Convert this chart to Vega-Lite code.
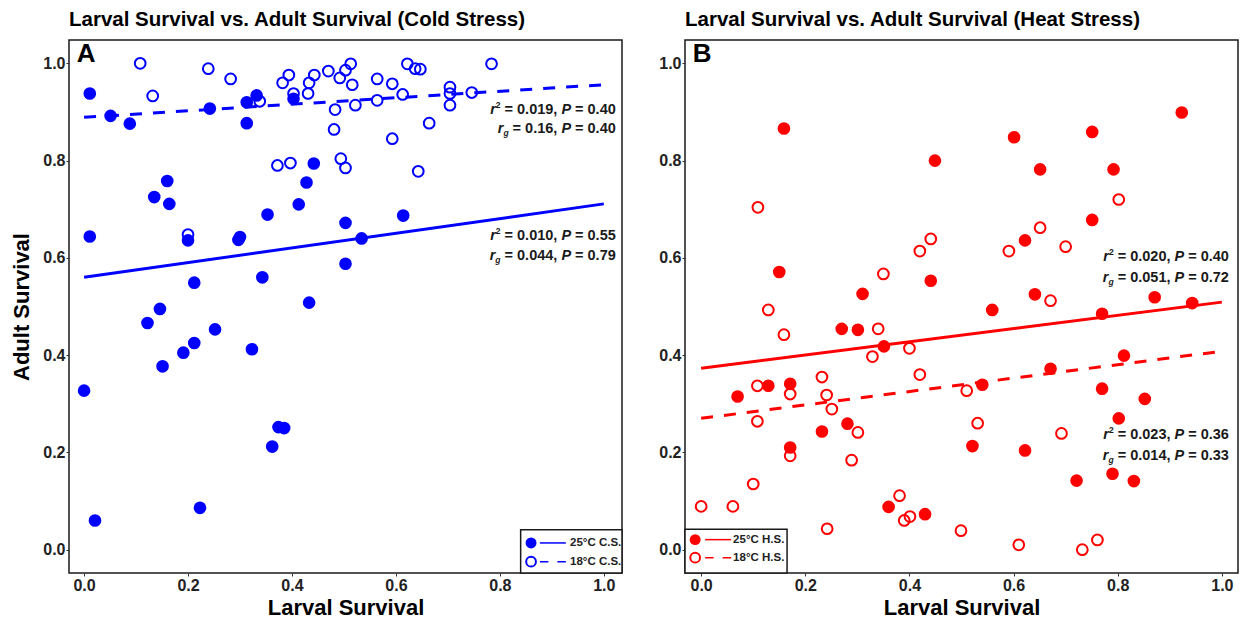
{
  "$schema": "https://vega.github.io/schema/vega-lite/v6.json",
  "background": "white",
  "padding": {"left": 10, "right": 5, "top": 8, "bottom": 5},
  "config": {
    "font": "Liberation Sans",
    "view": {"stroke": "#1a1a1a", "strokeWidth": 1.5},
    "axis": {
      "grid": false, "domain": false, "ticks": true, "tickSize": 3, "tickColor": "#333333", "tickWidth": 1,
      "labelFont": "Liberation Sans", "labelFontSize": 16, "labelFontWeight": "bold", "labelColor": "#222222", "labelPadding": 1,
      "titleFont": "Liberation Sans", "titleFontSize": 22, "titleFontWeight": "bold", "titleColor": "#000000"
    },
    "title": {"font": "Liberation Sans", "fontSize": 20.5, "fontWeight": "bold", "anchor": "start", "frame": "group", "offset": 10, "color": "#000000"},
    "concat": {"spacing": 34}
  },
  "datasets": {
    "cold25": [
      {"larval": 0.011, "adult": 0.938}, {"larval": 0.051, "adult": 0.892}, {"larval": 0.088, "adult": 0.876},
      {"larval": 0.242, "adult": 0.907}, {"larval": 0.313, "adult": 0.920}, {"larval": 0.332, "adult": 0.934},
      {"larval": 0.313, "adult": 0.877}, {"larval": 0.403, "adult": 0.927}, {"larval": 0.442, "adult": 0.794},
      {"larval": 0.428, "adult": 0.755}, {"larval": 0.160, "adult": 0.758}, {"larval": 0.135, "adult": 0.725},
      {"larval": 0.164, "adult": 0.711}, {"larval": 0.353, "adult": 0.689}, {"larval": 0.413, "adult": 0.710},
      {"larval": 0.503, "adult": 0.672}, {"larval": 0.011, "adult": 0.644}, {"larval": 0.200, "adult": 0.636},
      {"larval": 0.300, "adult": 0.643}, {"larval": 0.297, "adult": 0.637}, {"larval": 0.534, "adult": 0.640},
      {"larval": 0.503, "adult": 0.588}, {"larval": 0.212, "adult": 0.549}, {"larval": 0.343, "adult": 0.560},
      {"larval": 0.146, "adult": 0.495}, {"larval": 0.122, "adult": 0.466}, {"larval": 0.433, "adult": 0.508},
      {"larval": 0.252, "adult": 0.453}, {"larval": 0.212, "adult": 0.425}, {"larval": 0.191, "adult": 0.405},
      {"larval": 0.323, "adult": 0.412}, {"larval": 0.151, "adult": 0.377}, {"larval": 0.000, "adult": 0.327},
      {"larval": 0.374, "adult": 0.252}, {"larval": 0.385, "adult": 0.250}, {"larval": 0.362, "adult": 0.212},
      {"larval": 0.223, "adult": 0.086}, {"larval": 0.021, "adult": 0.060}, {"larval": 0.614, "adult": 0.687}
    ],
    "cold18": [
      {"larval": 0.108, "adult": 1.000}, {"larval": 0.132, "adult": 0.933}, {"larval": 0.239, "adult": 0.989},
      {"larval": 0.282, "adult": 0.968}, {"larval": 0.338, "adult": 0.922}, {"larval": 0.382, "adult": 0.960},
      {"larval": 0.394, "adult": 0.976}, {"larval": 0.403, "adult": 0.938}, {"larval": 0.431, "adult": 0.938},
      {"larval": 0.433, "adult": 0.960}, {"larval": 0.443, "adult": 0.976}, {"larval": 0.470, "adult": 0.984},
      {"larval": 0.492, "adult": 0.970}, {"larval": 0.503, "adult": 0.986}, {"larval": 0.513, "adult": 0.999},
      {"larval": 0.516, "adult": 0.956}, {"larval": 0.483, "adult": 0.905}, {"larval": 0.481, "adult": 0.864},
      {"larval": 0.522, "adult": 0.914}, {"larval": 0.372, "adult": 0.790}, {"larval": 0.397, "adult": 0.795},
      {"larval": 0.494, "adult": 0.804}, {"larval": 0.503, "adult": 0.785}, {"larval": 0.564, "adult": 0.968},
      {"larval": 0.593, "adult": 0.958}, {"larval": 0.564, "adult": 0.924}, {"larval": 0.613, "adult": 0.936},
      {"larval": 0.622, "adult": 0.999}, {"larval": 0.637, "adult": 0.989}, {"larval": 0.647, "adult": 0.988},
      {"larval": 0.593, "adult": 0.845}, {"larval": 0.664, "adult": 0.877}, {"larval": 0.643, "adult": 0.778},
      {"larval": 0.704, "adult": 0.951}, {"larval": 0.704, "adult": 0.938}, {"larval": 0.704, "adult": 0.914},
      {"larval": 0.746, "adult": 0.940}, {"larval": 0.784, "adult": 0.999}, {"larval": 0.200, "adult": 0.648}
    ],
    "heat25": [
      {"larval": 0.159, "adult": 0.866}, {"larval": 0.449, "adult": 0.800}, {"larval": 0.150, "adult": 0.571},
      {"larval": 0.310, "adult": 0.526}, {"larval": 0.441, "adult": 0.553}, {"larval": 0.923, "adult": 0.899},
      {"larval": 0.601, "adult": 0.848}, {"larval": 0.751, "adult": 0.859}, {"larval": 0.651, "adult": 0.782},
      {"larval": 0.792, "adult": 0.782}, {"larval": 0.751, "adult": 0.678}, {"larval": 0.622, "adult": 0.636},
      {"larval": 0.641, "adult": 0.525}, {"larval": 0.871, "adult": 0.519}, {"larval": 0.943, "adult": 0.507},
      {"larval": 0.559, "adult": 0.493}, {"larval": 0.770, "adult": 0.485}, {"larval": 0.270, "adult": 0.454},
      {"larval": 0.301, "adult": 0.452}, {"larval": 0.351, "adult": 0.418}, {"larval": 0.070, "adult": 0.315},
      {"larval": 0.129, "adult": 0.337}, {"larval": 0.171, "adult": 0.341}, {"larval": 0.232, "adult": 0.243},
      {"larval": 0.281, "adult": 0.259}, {"larval": 0.171, "adult": 0.210}, {"larval": 0.360, "adult": 0.088},
      {"larval": 0.430, "adult": 0.073}, {"larval": 0.812, "adult": 0.399}, {"larval": 0.671, "adult": 0.372},
      {"larval": 0.540, "adult": 0.339}, {"larval": 0.770, "adult": 0.331}, {"larval": 0.852, "adult": 0.310},
      {"larval": 0.802, "adult": 0.270}, {"larval": 0.521, "adult": 0.213}, {"larval": 0.622, "adult": 0.204},
      {"larval": 0.790, "adult": 0.156}, {"larval": 0.721, "adult": 0.142}, {"larval": 0.831, "adult": 0.141}
    ],
    "heat18": [
      {"larval": 0.109, "adult": 0.704}, {"larval": 0.441, "adult": 0.639}, {"larval": 0.420, "adult": 0.614},
      {"larval": 0.350, "adult": 0.567}, {"larval": 0.129, "adult": 0.493}, {"larval": 0.802, "adult": 0.720},
      {"larval": 0.651, "adult": 0.662}, {"larval": 0.591, "adult": 0.614}, {"larval": 0.700, "adult": 0.623},
      {"larval": 0.671, "adult": 0.512}, {"larval": 0.159, "adult": 0.442}, {"larval": 0.340, "adult": 0.454},
      {"larval": 0.329, "adult": 0.397}, {"larval": 0.400, "adult": 0.414}, {"larval": 0.420, "adult": 0.360},
      {"larval": 0.108, "adult": 0.337}, {"larval": 0.171, "adult": 0.320}, {"larval": 0.232, "adult": 0.355},
      {"larval": 0.241, "adult": 0.318}, {"larval": 0.251, "adult": 0.289}, {"larval": 0.108, "adult": 0.264},
      {"larval": 0.301, "adult": 0.241}, {"larval": 0.171, "adult": 0.193}, {"larval": 0.289, "adult": 0.184},
      {"larval": 0.100, "adult": 0.135}, {"larval": 0.000, "adult": 0.089}, {"larval": 0.061, "adult": 0.089},
      {"larval": 0.381, "adult": 0.111}, {"larval": 0.390, "adult": 0.060}, {"larval": 0.401, "adult": 0.068},
      {"larval": 0.242, "adult": 0.043}, {"larval": 0.510, "adult": 0.327}, {"larval": 0.531, "adult": 0.260},
      {"larval": 0.692, "adult": 0.239}, {"larval": 0.499, "adult": 0.039}, {"larval": 0.610, "adult": 0.010},
      {"larval": 0.732, "adult": 0.000}, {"larval": 0.761, "adult": 0.020}
    ],
    "coldFit25": [{"larval": 0, "adult": 0.560}, {"larval": 1, "adult": 0.711}],
    "coldFit18": [{"larval": 0, "adult": 0.889}, {"larval": 1, "adult": 0.956}],
    "heatFit25": [{"larval": 0, "adult": 0.373}, {"larval": 1, "adult": 0.509}],
    "heatFit18": [{"larval": 0, "adult": 0.270}, {"larval": 1, "adult": 0.408}],
    "coldNotes": [
      {"kind": "r2", "larval": 1.023, "adult": 0.905, "stat": "= 0.019,", "p": "= 0.40"},
      {"kind": "rg", "larval": 1.023, "adult": 0.864, "stat": "= 0.16,", "p": "= 0.40"},
      {"kind": "r2", "larval": 1.023, "adult": 0.644, "stat": "= 0.010,", "p": "= 0.55"},
      {"kind": "rg", "larval": 1.023, "adult": 0.603, "stat": "= 0.044,", "p": "= 0.79"}
    ],
    "heatNotes": [
      {"kind": "r2", "larval": 1.0135, "adult": 0.601, "stat": "= 0.020,", "p": "= 0.40"},
      {"kind": "rg", "larval": 1.0135, "adult": 0.559, "stat": "= 0.051,", "p": "= 0.72"},
      {"kind": "r2", "larval": 1.0135, "adult": 0.2366, "stat": "= 0.023,", "p": "= 0.36"},
      {"kind": "rg", "larval": 1.0135, "adult": 0.193, "stat": "= 0.014,", "p": "= 0.33"}
    ]
  },
  "hconcat": [
    {
      "width": 553,
      "height": 533,
      "title": {"text": "Larval Survival vs. Adult Survival (Cold Stress)"},
      "layer": [
        {
          "encoding": {
            "x": {"field": "larval", "type": "quantitative", "title": "Larval Survival",
                  "scale": {"domain": [-0.029, 1.035], "nice": false, "zero": false},
                  "axis": {"values": [0, 0.2, 0.4, 0.6, 0.8, 1], "format": ".1f", "titlePadding": 4}},
            "y": {"field": "adult", "type": "quantitative", "title": "Adult Survival",
                  "scale": {"domain": [-0.048, 1.048], "nice": false, "zero": false},
                  "axis": {"values": [0, 0.2, 0.4, 0.6, 0.8, 1], "format": ".1f", "titlePadding": 9}}
          },
          "layer": [
            {"data": {"name": "coldFit25"}, "mark": {"type": "line", "color": "#0000FF", "strokeWidth": 3}, "encoding": {}},
            {"data": {"name": "coldFit18"}, "mark": {"type": "line", "color": "#0000FF", "strokeWidth": 3, "strokeDash": [12, 11]}, "encoding": {}},
            {"data": {"name": "cold25"}, "mark": {"type": "point", "shape": "circle", "filled": true, "size": 160, "color": "#0000FF", "opacity": 1}},
            {"data": {"name": "cold18"}, "mark": {"type": "point", "shape": "circle", "filled": false, "size": 115, "strokeWidth": 2, "color": "#0000FF", "opacity": 1}},
            {"data": {"name": "coldNotes"}, "mark": {"type": "text", "align": "right", "baseline": "middle", "fontSize": 14.5, "fontWeight": "bold", "color": "#1a1a1a"}, "encoding": {"text": {"field": "p"}}},
            {"data": {"name": "coldNotes"}, "mark": {"type": "text", "align": "right", "baseline": "middle", "fontSize": 14.5, "fontWeight": "bold", "fontStyle": "italic", "color": "#1a1a1a", "dx": -44.7}, "encoding": {"text": {"value": "P"}}},
            {"data": {"name": "coldNotes"}, "mark": {"type": "text", "align": "right", "baseline": "middle", "fontSize": 14.5, "fontWeight": "bold", "color": "#1a1a1a", "dx": -58.4}, "encoding": {"text": {"field": "stat"}}},
            {"data": {"name": "coldNotes"}, "transform": [{"filter": "datum.kind === 'r2'"}], "mark": {"type": "text", "align": "right", "baseline": "middle", "fontSize": 8.5, "fontWeight": "bold", "color": "#1a1a1a", "dx": -115.2, "dy": -5}, "encoding": {"text": {"value": "2"}}},
            {"data": {"name": "coldNotes"}, "transform": [{"filter": "datum.kind === 'r2'"}], "mark": {"type": "text", "align": "right", "baseline": "middle", "fontSize": 14.5, "fontWeight": "bold", "fontStyle": "italic", "color": "#1a1a1a", "dx": -119.9}, "encoding": {"text": {"value": "r"}}},
            {"data": {"name": "coldNotes"}, "transform": [{"filter": "datum.kind === 'rg' && length(datum.stat) === 8"}], "mark": {"type": "text", "align": "right", "baseline": "middle", "fontSize": 8.5, "fontWeight": "bold", "fontStyle": "italic", "color": "#1a1a1a", "dx": -115.2, "dy": 4}, "encoding": {"text": {"value": "g"}}},
            {"data": {"name": "coldNotes"}, "transform": [{"filter": "datum.kind === 'rg' && length(datum.stat) === 8"}], "mark": {"type": "text", "align": "right", "baseline": "middle", "fontSize": 14.5, "fontWeight": "bold", "fontStyle": "italic", "color": "#1a1a1a", "dx": -120.4}, "encoding": {"text": {"value": "r"}}},
            {"data": {"name": "coldNotes"}, "transform": [{"filter": "datum.kind === 'rg' && length(datum.stat) === 7"}], "mark": {"type": "text", "align": "right", "baseline": "middle", "fontSize": 8.5, "fontWeight": "bold", "fontStyle": "italic", "color": "#1a1a1a", "dx": -107.1, "dy": 4}, "encoding": {"text": {"value": "g"}}},
            {"data": {"name": "coldNotes"}, "transform": [{"filter": "datum.kind === 'rg' && length(datum.stat) === 7"}], "mark": {"type": "text", "align": "right", "baseline": "middle", "fontSize": 14.5, "fontWeight": "bold", "fontStyle": "italic", "color": "#1a1a1a", "dx": -112.3}, "encoding": {"text": {"value": "r"}}}
          ]
        },
        {"data": {"values": [{"key": "box"}]}, "mark": {"type": "rect", "fill": "white", "stroke": "#1a1a1a", "strokeWidth": 1.5},
         "encoding": {"x": {"datum": 0.840, "type": "quantitative"}, "x2": {"datum": 1.035}, "y": {"datum": 0.041, "type": "quantitative"}, "y2": {"datum": -0.048}}},
        {"data": {"values": [{"key": "25"}]}, "mark": {"type": "rule", "color": "#0000FF", "strokeWidth": 1.5},
         "encoding": {"x": {"datum": 0.877, "type": "quantitative"}, "x2": {"datum": 0.927}, "y": {"datum": 0.0138, "type": "quantitative"}}},
        {"data": {"values": [{"key": "18"}]}, "mark": {"type": "rule", "color": "#0000FF", "strokeWidth": 1.5, "strokeDash": [8.5, 9]},
         "encoding": {"x": {"datum": 0.877, "type": "quantitative"}, "x2": {"datum": 0.927}, "y": {"datum": -0.0247, "type": "quantitative"}}},
        {"data": {"values": [{"key": "25"}]}, "mark": {"type": "point", "shape": "circle", "filled": true, "size": 120, "color": "#0000FF", "opacity": 1},
         "encoding": {"x": {"datum": 0.860, "type": "quantitative"}, "y": {"datum": 0.0138, "type": "quantitative"}}},
        {"data": {"values": [{"key": "18"}]}, "mark": {"type": "point", "shape": "circle", "filled": false, "size": 95, "strokeWidth": 2, "color": "#0000FF", "opacity": 1},
         "encoding": {"x": {"datum": 0.860, "type": "quantitative"}, "y": {"datum": -0.0247, "type": "quantitative"}}},
        {"data": {"values": [{"key": "25"}]}, "mark": {"type": "text", "align": "left", "baseline": "middle", "fontSize": 11.5, "fontWeight": "bold", "color": "#222222"},
         "encoding": {"x": {"datum": 0.935, "type": "quantitative"}, "y": {"datum": 0.0138, "type": "quantitative"}, "text": {"value": "25°C C.S."}}},
        {"data": {"values": [{"key": "18"}]}, "mark": {"type": "text", "align": "left", "baseline": "middle", "fontSize": 11.5, "fontWeight": "bold", "color": "#222222"},
         "encoding": {"x": {"datum": 0.935, "type": "quantitative"}, "y": {"datum": -0.0247, "type": "quantitative"}, "text": {"value": "18°C C.S."}}},
        {"data": {"values": [{"key": "panel"}]}, "mark": {"type": "text", "align": "center", "baseline": "middle", "fontSize": 26, "fontWeight": "bold", "color": "#000000"},
         "encoding": {"x": {"datum": 0.004, "type": "quantitative"}, "y": {"datum": 1.02, "type": "quantitative"}, "text": {"value": "A"}}}
      ]
    },
    {
      "width": 553,
      "height": 533,
      "title": {"text": "Larval Survival vs. Adult Survival (Heat Stress)"},
      "layer": [
        {
          "encoding": {
            "x": {"field": "larval", "type": "quantitative", "title": "Larval Survival",
                  "scale": {"domain": [-0.031, 1.031], "nice": false, "zero": false},
                  "axis": {"values": [0, 0.2, 0.4, 0.6, 0.8, 1], "format": ".1f", "titlePadding": 4}},
            "y": {"field": "adult", "type": "quantitative", "title": null,
                  "scale": {"domain": [-0.048, 1.048], "nice": false, "zero": false},
                  "axis": {"values": [0, 0.2, 0.4, 0.6, 0.8, 1], "format": ".1f", "title": null}}
          },
          "layer": [
            {"data": {"name": "heatFit25"}, "mark": {"type": "line", "color": "#FF0000", "strokeWidth": 3}, "encoding": {}},
            {"data": {"name": "heatFit18"}, "mark": {"type": "line", "color": "#FF0000", "strokeWidth": 3, "strokeDash": [12, 11]}, "encoding": {}},
            {"data": {"name": "heat25"}, "mark": {"type": "point", "shape": "circle", "filled": true, "size": 160, "color": "#FF0000", "opacity": 1}},
            {"data": {"name": "heat18"}, "mark": {"type": "point", "shape": "circle", "filled": false, "size": 115, "strokeWidth": 2, "color": "#FF0000", "opacity": 1}},
            {"data": {"name": "heatNotes"}, "mark": {"type": "text", "align": "right", "baseline": "middle", "fontSize": 14.5, "fontWeight": "bold", "color": "#1a1a1a"}, "encoding": {"text": {"field": "p"}}},
            {"data": {"name": "heatNotes"}, "mark": {"type": "text", "align": "right", "baseline": "middle", "fontSize": 14.5, "fontWeight": "bold", "fontStyle": "italic", "color": "#1a1a1a", "dx": -44.7}, "encoding": {"text": {"value": "P"}}},
            {"data": {"name": "heatNotes"}, "mark": {"type": "text", "align": "right", "baseline": "middle", "fontSize": 14.5, "fontWeight": "bold", "color": "#1a1a1a", "dx": -58.4}, "encoding": {"text": {"field": "stat"}}},
            {"data": {"name": "heatNotes"}, "transform": [{"filter": "datum.kind === 'r2'"}], "mark": {"type": "text", "align": "right", "baseline": "middle", "fontSize": 8.5, "fontWeight": "bold", "color": "#1a1a1a", "dx": -115.2, "dy": -5}, "encoding": {"text": {"value": "2"}}},
            {"data": {"name": "heatNotes"}, "transform": [{"filter": "datum.kind === 'r2'"}], "mark": {"type": "text", "align": "right", "baseline": "middle", "fontSize": 14.5, "fontWeight": "bold", "fontStyle": "italic", "color": "#1a1a1a", "dx": -119.9}, "encoding": {"text": {"value": "r"}}},
            {"data": {"name": "heatNotes"}, "transform": [{"filter": "datum.kind === 'rg'"}], "mark": {"type": "text", "align": "right", "baseline": "middle", "fontSize": 8.5, "fontWeight": "bold", "fontStyle": "italic", "color": "#1a1a1a", "dx": -115.2, "dy": 4}, "encoding": {"text": {"value": "g"}}},
            {"data": {"name": "heatNotes"}, "transform": [{"filter": "datum.kind === 'rg'"}], "mark": {"type": "text", "align": "right", "baseline": "middle", "fontSize": 14.5, "fontWeight": "bold", "fontStyle": "italic", "color": "#1a1a1a", "dx": -120.4}, "encoding": {"text": {"value": "r"}}}
          ]
        },
        {"data": {"values": [{"key": "box"}]}, "mark": {"type": "rect", "fill": "white", "stroke": "#1a1a1a", "strokeWidth": 1.5},
         "encoding": {"x": {"datum": -0.031, "type": "quantitative"}, "x2": {"datum": 0.165}, "y": {"datum": 0.0418, "type": "quantitative"}, "y2": {"datum": -0.048}}},
        {"data": {"values": [{"key": "25"}]}, "mark": {"type": "rule", "color": "#FF0000", "strokeWidth": 1.5},
         "encoding": {"x": {"datum": 0.0077, "type": "quantitative"}, "x2": {"datum": 0.0576}, "y": {"datum": 0.0206, "type": "quantitative"}}},
        {"data": {"values": [{"key": "18"}]}, "mark": {"type": "rule", "color": "#FF0000", "strokeWidth": 1.5, "strokeDash": [8.5, 9]},
         "encoding": {"x": {"datum": 0.0077, "type": "quantitative"}, "x2": {"datum": 0.0576}, "y": {"datum": -0.0165, "type": "quantitative"}}},
        {"data": {"values": [{"key": "25"}]}, "mark": {"type": "point", "shape": "circle", "filled": true, "size": 120, "color": "#FF0000", "opacity": 1},
         "encoding": {"x": {"datum": -0.0115, "type": "quantitative"}, "y": {"datum": 0.0206, "type": "quantitative"}}},
        {"data": {"values": [{"key": "18"}]}, "mark": {"type": "point", "shape": "circle", "filled": false, "size": 95, "strokeWidth": 2, "color": "#FF0000", "opacity": 1},
         "encoding": {"x": {"datum": -0.0115, "type": "quantitative"}, "y": {"datum": -0.0165, "type": "quantitative"}}},
        {"data": {"values": [{"key": "25"}]}, "mark": {"type": "text", "align": "left", "baseline": "middle", "fontSize": 11.5, "fontWeight": "bold", "color": "#222222"},
         "encoding": {"x": {"datum": 0.0614, "type": "quantitative"}, "y": {"datum": 0.0206, "type": "quantitative"}, "text": {"value": "25°C H.S."}}},
        {"data": {"values": [{"key": "18"}]}, "mark": {"type": "text", "align": "left", "baseline": "middle", "fontSize": 11.5, "fontWeight": "bold", "color": "#222222"},
         "encoding": {"x": {"datum": 0.0614, "type": "quantitative"}, "y": {"datum": -0.0165, "type": "quantitative"}, "text": {"value": "18°C H.S."}}},
        {"data": {"values": [{"key": "panel"}]}, "mark": {"type": "text", "align": "center", "baseline": "middle", "fontSize": 26, "fontWeight": "bold", "color": "#000000"},
         "encoding": {"x": {"datum": 0.002, "type": "quantitative"}, "y": {"datum": 1.02, "type": "quantitative"}, "text": {"value": "B"}}}
      ]
    }
  ]
}
